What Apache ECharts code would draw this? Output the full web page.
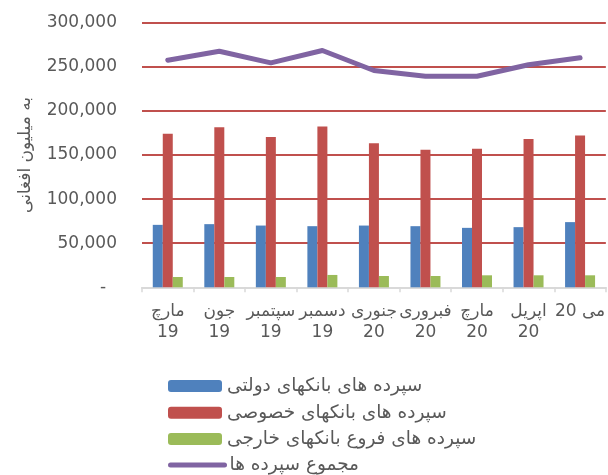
<!DOCTYPE html>
<html>
<head>
<meta charset="utf-8">
<script src="https://cdn.jsdelivr.net/npm/echarts@6/dist/echarts.min.js"></script>
<style>html,body{margin:0;padding:0;background:#fff;}#c{width:608px;height:475px;}</style>
</head>
<body>
<div id="c"></div>
<script>
const categories = ['مارچ\n19', 'جون\n19', 'سپتمبر\n19', 'دسمبر\n19', 'جنوری\n20', 'فبروری\n20', 'مارچ\n20', 'اپریل\n20', 'می 20'];
const seriesNames = ['سپرده های بانکهای دولتی', 'سپرده های بانکهای خصوصی', 'سپرده های فروع بانکهای خارجی', 'مجموع سپرده ها'];
const stateBanks = [70800, 71600, 70000, 69300, 70000, 69300, 67400, 68200, 73900];
const privateBanks = [174200, 181400, 170500, 182200, 163200, 156000, 157200, 168200, 172000];
const foreignBranches = [11700, 11700, 11700, 14000, 12800, 12800, 13600, 13600, 13600];
const totalDeposits = [257500, 267700, 254500, 268500, 245800, 239300, 239300, 252300, 260200];
const yTicks = [0, 50000, 100000, 150000, 200000, 250000, 300000];
const yAxisTitle = 'به میلیون افغانی';

const FONT = 'DejaVu Sans';
const TXT = '#595959';
const legendBottoms = [79.5, 52.8, 26.5, 0.5];
const legends = seriesNames.map((n, i) => ({
  id: 'lg' + i, show: true,
  orient: 'horizontal', left: 168, bottom: legendBottoms[i], padding: 0,
  itemWidth: 54, itemHeight: 12,
  data: [i === 3 ? {name: n, itemStyle: {opacity: 0}, lineStyle: {width: 5, cap: 'round', color: '#8064A2'}} : {name: n}],
  textStyle: {fontFamily: FONT, fontSize: 18.5, color: TXT, lineHeight: 16}
}));
const chart = echarts.init(document.getElementById('c'), null, {renderer: 'canvas'});
chart.setOption({
  animation: false,
  backgroundColor: '#ffffff',
  textStyle: {fontFamily: FONT, color: TXT},
  grid: {left: 142, right: -2, top: 22.7, bottom: 187.7, containLabel: false},
  legend: legends,
  xAxis: {
    type: 'category', data: categories,
    axisLine: {show: true, lineStyle: {color: '#D9D9D9', width: 2}},
    axisTick: {show: true, length: 5, lineStyle: {color: '#D9D9D9', width: 1.5}},
    axisLabel: {fontFamily: FONT, fontSize: 17, color: TXT, lineHeight: 21, margin: 14, interval: 0}
  },
  yAxis: {
    type: 'value', min: yTicks[0], max: yTicks[yTicks.length - 1], interval: yTicks[1] - yTicks[0],
    name: yAxisTitle, nameLocation: 'middle', nameRotate: 90, nameGap: 108,
    nameTextStyle: {fontFamily: FONT, fontSize: 17, color: TXT},
    axisLine: {show: false}, axisTick: {show: false},
    axisLabel: {
      fontFamily: FONT, fontSize: 17, color: TXT, margin: 25,
      formatter: v => v === 0 ? '-  ' : v.toLocaleString('en-US')
    },
    splitLine: {show: true, showMinLine: false, lineStyle: {color: '#C0504D', width: 2}}
  },
  series: [
    {name: seriesNames[0], type: 'bar', data: stateBanks, barWidth: 10, barGap: '0%', itemStyle: {color: '#4F81BD'}},
    {name: seriesNames[1], type: 'bar', data: privateBanks, barWidth: 10, barGap: '0%', itemStyle: {color: '#C0504D'}},
    {name: seriesNames[2], type: 'bar', data: foreignBranches, barWidth: 10, barGap: '0%', itemStyle: {color: '#9BBB59'}},
    {name: seriesNames[3], type: 'line', data: totalDeposits, symbol: 'none', showSymbol: false,
     lineStyle: {color: '#8064A2', width: 5, cap: 'round', join: 'round'}, itemStyle: {color: '#8064A2'}, z: 5}
  ]
});
</script>
</body>
</html>
